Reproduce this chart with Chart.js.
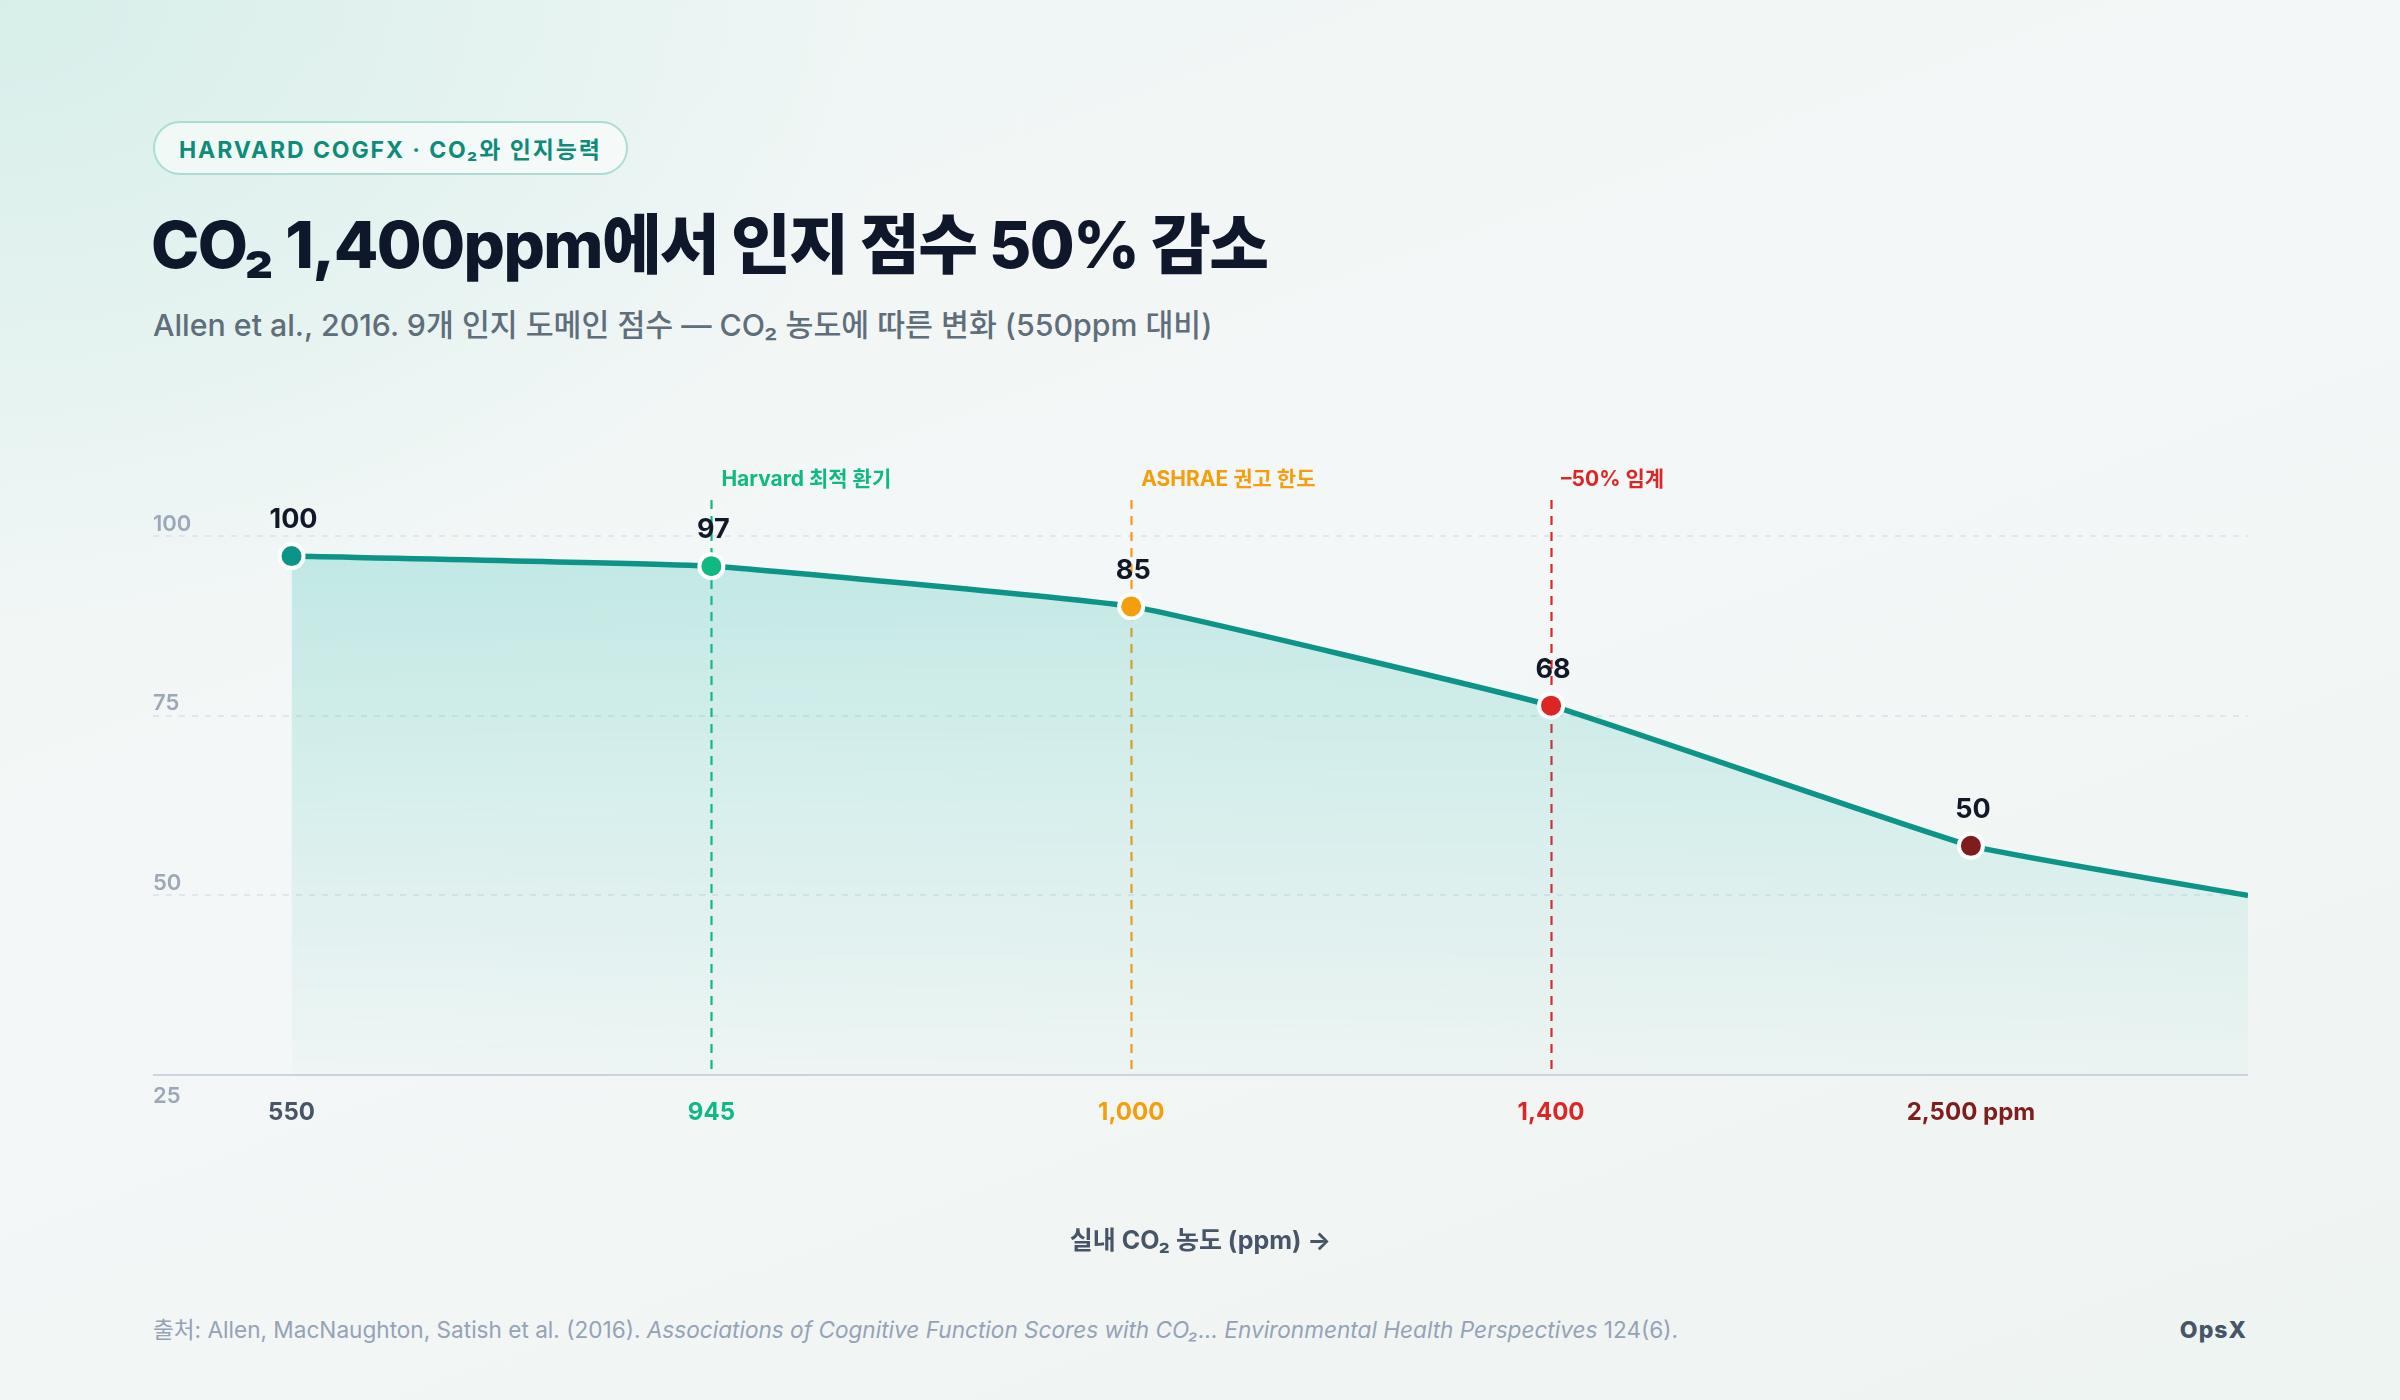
<!DOCTYPE html>
<html lang="ko">
<head>
<meta charset="utf-8">
<title>CO2 인지 점수</title>
<script src="https://cdn.jsdelivr.net/npm/chart.js@4.4.1/dist/chart.umd.min.js"></script>
<style>
  html, body { margin: 0; padding: 0; }
  body {
    width: 2400px; height: 1400px; overflow: hidden; position: relative;
    font-family: Inter, "Noto Sans CJK KR", sans-serif;
    background:
      radial-gradient(ellipse 1300px 900px at 0% 0%, rgba(214,238,233,0.95) 0%, rgba(214,238,233,0) 70%),
      linear-gradient(160deg, #eef6f4 0%, #f4f7f7 45%, #eef4f2 100%);
  }
  .pill {
    position: absolute; left: 153px; top: 121px; height: 50px;
    display: inline-flex; align-items: center; padding: 0 24px;
    border: 2px solid #aadcd4; border-radius: 28px;
    background: rgba(255,255,255,0.55);
    color: #0f8b79; font-weight: 700; font-size: 23px; letter-spacing: 1.9px;
  }
  .title {
    position: absolute; left: 151px; top: 205px; margin: 0;
    font-size: 65px; line-height: 80px; font-weight: 800; letter-spacing: -1.6px;
    color: #0f172a;
  }
  .sub {
    position: absolute; left: 153px; top: 307px;
    font-size: 30.3px; line-height: 36px; font-weight: 500; color: #5f6e7b;
  }
  #wrap { position: absolute; left: 153px; top: 440px; width: 2095px; height: 816px; }
  .foot {
    position: absolute; left: 153px; top: 1316px;
    font-size: 22.6px; line-height: 28px; color: #94a3b8;
  }
  .brand {
    position: absolute; right: 153px; top: 1316px;
    font-size: 23px; line-height: 28px; font-weight: 800; color: #475569; letter-spacing: 1px;
  }
</style>
</head>
<body>
<div class="pill">HARVARD COGFX · CO₂와 인지능력</div>
<h1 class="title">CO₂ 1,400ppm에서 인지 점수 50% 감소</h1>
<div class="sub">Allen et al., 2016. 9개 인지 도메인 점수 — CO₂ 농도에 따른 변화 (550ppm 대비)</div>
<div id="wrap"><canvas id="co2-plot"></canvas></div>
<div class="foot">출처: Allen, MacNaughton, Satish et al. (2016). <i>Associations of Cognitive Function Scores with CO₂... Environmental Health Perspectives</i> 124(6).</div>
<div class="brand">OpsX</div>

<script>
// x tick labels (ppm) and colours
const ppm_labels = ['550', '945', '1,000', '1,400', '2,500 ppm']
const ppm_colors = ['#475569', '#10b981', '#f59e0b', '#dc2626', '#7f1d1d']

// score text shown over each point, and where the point sits on the y scale
const score_labels = ['100', '97', '85', '68', '50']
const score_plotted = [97.2, 95.8, 90.2, 76.4, 56.9]
const point_colors = ['#0d9488', '#10b981', '#f59e0b', '#dc2626', '#7f1d1d']

// line keeps going to the right edge
const tail_x = 4.66
const tail_y = 50

// reference lines
const ref_index = [1, 2, 3]
const ref_text = ['Harvard 최적 환기', 'ASHRAE 권고 한도', '–50% 임계']
const ref_colors = ['#10b981', '#f59e0b', '#dc2626']

const y_ticks = [25, 50, 75, 100]

const FONT = 'Inter, "Noto Sans CJK KR", sans-serif'

let line_points = score_plotted.map((v, i) => ({x: i, y: v}))
line_points.push({x: tail_x, y: tail_y})

const refLines = {
    id: 'refLines',
    beforeDatasetsDraw(chart) {
        const {ctx, chartArea, scales} = chart
        ctx.save()
        ctx.lineWidth = 2.2
        ctx.setLineDash([9, 7])
        ref_index.forEach((xi, k) => {
            const px = Math.round(scales.x.getPixelForValue(xi)) + 0.5
            ctx.strokeStyle = ref_colors[k]
            ctx.beginPath()
            ctx.moveTo(px, chartArea.top)
            ctx.lineTo(px, chartArea.bottom)
            ctx.stroke()
        })
        ctx.restore()
    },
    afterDatasetsDraw(chart) {
        const {ctx, chartArea, scales} = chart
        ctx.save()
        // labels over the reference lines
        ctx.font = '700 21px ' + FONT
        ctx.textAlign = 'left'
        ctx.textBaseline = 'middle'
        ref_index.forEach((xi, k) => {
            ctx.fillStyle = ref_colors[k]
            ctx.fillText(ref_text[k], scales.x.getPixelForValue(xi) + 10, chartArea.top - 20)
        })
        // score labels
        ctx.font = '700 27px ' + FONT
        ctx.textAlign = 'center'
        ctx.fillStyle = '#111827'
        score_labels.forEach((t, i) => {
            ctx.fillText(t, scales.x.getPixelForValue(i) + 2, scales.y.getPixelForValue(score_plotted[i]) - 36)
        })
        // y tick labels, inside the plot on the left
        ctx.font = '600 22px ' + FONT
        ctx.textAlign = 'left'
        ctx.fillStyle = '#9ca8b8'
        y_ticks.forEach(v => {
            const py = scales.y.getPixelForValue(v)
            ctx.fillText(String(v), chartArea.left, v === y_ticks[0] ? py + 21 : py - 12)
        })
        ctx.restore()
    }
}

function define_chart_defaults() {
    Chart.defaults.font.family = FONT
    Chart.defaults.responsive = true
    Chart.defaults.maintainAspectRatio = false
    Chart.defaults.animation = false
    Chart.defaults.plugins.legend.display = false
    Chart.defaults.plugins.tooltip.enabled = false
}

function create_chart() {
    const el = document.getElementById('co2-plot')
    return new Chart(el, {
        type: 'line',
        data: {
            datasets: [{
                data: line_points,
                borderColor: '#0d9488',
                borderWidth: 5.5,
                tension: 0.1,
                fill: 'start',
                backgroundColor: (c) => {
                    const area = c.chart.chartArea
                    if (!area) return 'rgba(20,184,166,0.15)'
                    const g = c.chart.ctx.createLinearGradient(0, area.top, 0, area.bottom)
                    g.addColorStop(0, 'rgba(20,184,166,0.24)')
                    g.addColorStop(1, 'rgba(20,184,166,0.02)')
                    return g
                },
                pointRadius: line_points.map((p, i) => i < score_plotted.length ? 12 : 0),
                pointBackgroundColor: point_colors,
                pointBorderColor: '#ffffff',
                pointBorderWidth: 4,
                pointHoverRadius: 12,
                clip: false,
            }]
        },
        options: {
            layout: {autoPadding: false, padding: {top: 60, left: 0, right: 0, bottom: 0}},
            events: [],
            scales: {
                x: {
                    type: 'linear',
                    min: -0.33,
                    max: tail_x,
                    afterBuildTicks: (s) => { s.ticks = ppm_labels.map((_, i) => ({value: i})) },
                    grid: {display: false, drawTicks: false},
                    border: {display: true, color: '#cbd5e1', width: 2},
                    ticks: {
                        padding: 23,
                        autoSkip: false,
                        maxRotation: 0,
                        font: {size: 24, weight: '700'},
                        color: (c) => ppm_colors[c.tick.value] || '#475569',
                        callback: (v) => ppm_labels[v],
                    },
                    title: {
                        display: true,
                        text: '실내 CO₂ 농도 (ppm) →',
                        color: '#475569',
                        font: {size: 25, weight: '700'},
                        padding: {top: 76, bottom: 0},
                    }
                },
                y: {
                    min: 25,
                    max: 105,
                    afterBuildTicks: (s) => { s.ticks = y_ticks.map(v => ({value: v})) },
                    ticks: {display: false},
                    grid: {
                        drawTicks: false,
                        lineWidth: 2,
                        color: (c) => c.tick && c.tick.value === y_ticks[0] ? 'rgba(0,0,0,0)' : '#dfe6ee',
                    },
                    border: {display: false, dash: [6, 7]},
                }
            }
        },
        plugins: [refLines]
    })
}

document.addEventListener('DOMContentLoaded', () => {
    define_chart_defaults()
    create_chart()
})
</script>
</body>
</html>
